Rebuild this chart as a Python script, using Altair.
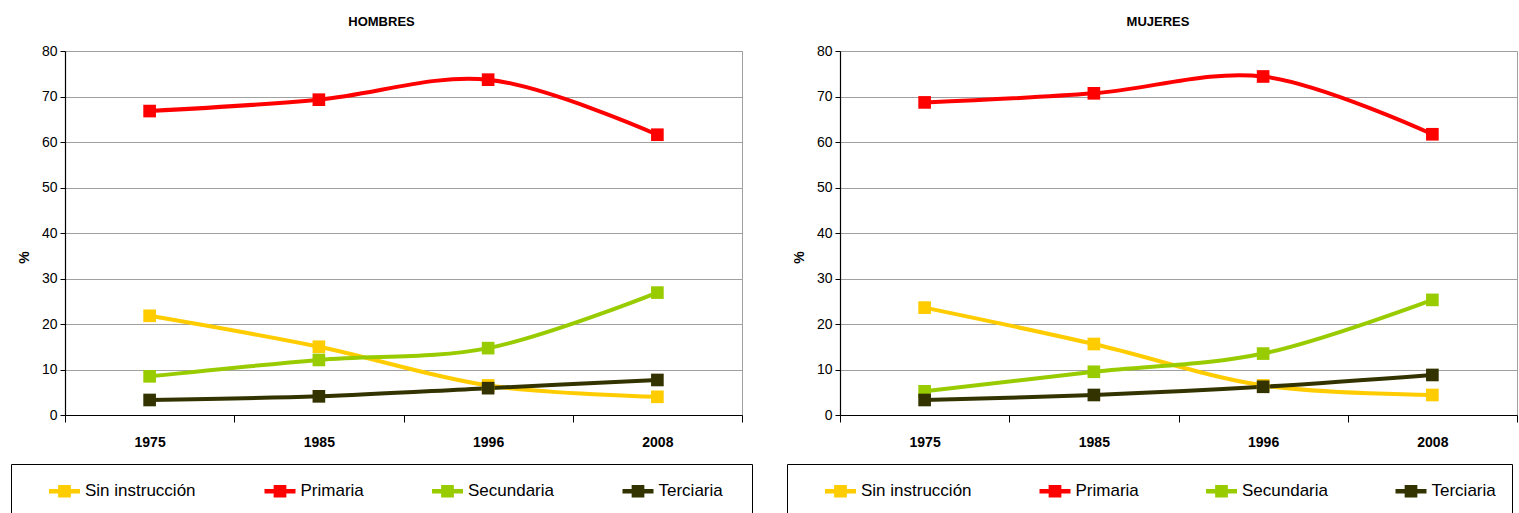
import json
import altair as alt
import pandas as pd

years = ["1975", "1985", "1996", "2008"]
series = ["Sin instrucción", "Primaria", "Secundaria", "Terciaria"]
colors = ["#FFCC00", "#FF0000", "#99CC00", "#333300"]

hombres_sin = [21.8, 15.0, 6.5, 4.0]
hombres_pri = [66.8, 69.3, 73.7, 61.6]
hombres_sec = [8.5, 12.1, 14.7, 26.9]
hombres_ter = [3.3, 4.1, 5.9, 7.7]

mujeres_sin = [23.6, 15.6, 6.5, 4.4]
mujeres_pri = [68.7, 70.7, 74.4, 61.7]
mujeres_sec = [5.2, 9.5, 13.5, 25.3]
mujeres_ter = [3.3, 4.4, 6.2, 8.8]

FONT = "Liberation Sans, Arial"


def build_df(vals):
    rows = []
    for s, arr in zip(series, vals):
        for y, v in zip(years, arr):
            rows.append({"year": y, "serie": s, "value": v})
    return pd.DataFrame(rows)


years_js = json.dumps(years)
LEG_PATH = "M-1,-0.15H1V0.15H-1Z M-0.41,-0.41H0.41V0.41H-0.41Z"


def panel(df, title, legx, title_pad, col_pad, dx):
    base = alt.Chart(df).transform_calculate(
        pos=f"indexof({years_js}, datum.year) + 0.5"
    )
    xaxis = alt.Axis(
        title=None,
        values=[0, 0.5, 1, 1.5, 2, 2.5, 3, 3.5, 4],
        labelExpr=f"(datum.value % 1) == 0.5 ? {years_js}[floor(datum.value)] : ''",
        labelOverlap=False,
        labelFlush=False,
        labelFont=FONT,
        labelFontSize=14,
        labelFontWeight="bold",
        labelColor="black",
        labelPadding=13,
        tickSize=7,
        tickColor="black",
        tickOpacity={"condition": {"test": "(datum.value % 1) == 0", "value": 1}, "value": 0},
        domainColor="black",
        domainWidth=1.2,
        grid=False,
    )
    yaxis = alt.Axis(
        title="%",
        values=[0, 10, 20, 30, 40, 50, 60, 70, 80],
        labelFont=FONT,
        labelFontSize=14,
        labelColor="black",
        labelPadding=3,
        tickSize=5,
        tickColor="black",
        domainColor="black",
        domainWidth=1.2,
        gridColor="#a0a0a0",
        gridWidth=1,
        titleFont=FONT,
        titleFontSize=14,
        titleFontWeight="bold",
        titleColor="black",
        titleX=-41,
        titleY=206,
        titleAlign="center",
        titleBaseline="middle",
        titleAngle=270,
    )
    x = alt.X("pos:Q", scale=alt.Scale(domain=[0, 4], nice=False, zero=False), axis=xaxis)
    y = alt.Y("value:Q", scale=alt.Scale(domain=[0, 80], nice=False), axis=yaxis)
    cscale = alt.Scale(domain=series, range=colors)
    legend = alt.Legend(
        title=" ",
        titleFontSize=27,
        titlePadding=title_pad,
        titleColor="white",
        titleOrient="right",
        titleAnchor="start",
        titleBaseline="top",
        orient="none",
        legendX=legx,
        legendY=413,
        direction="horizontal",
        columns=4,
        symbolType=LEG_PATH,
        symbolSize=961,
        symbolStrokeWidth=0,
        symbolOffset=26.5,
        labelOffset=5,
        labelFont=FONT,
        labelFontSize=17,
        labelColor="black",
        labelLimit=400,
        columnPadding=col_pad,
        padding=11.5,
        strokeColor="black",
        fillColor="white",
    )
    color = alt.Color("serie:N", scale=cscale, legend=legend)
    line = base.mark_line(strokeWidth=4, interpolate="catmull-rom").encode(
        x=x, y=y, color=color
    )
    pts = base.mark_square(size=160, opacity=1, filled=True).encode(
        x=x, y=y, color=color
    )
    return alt.layer(line, pts).properties(
        width=677,
        height=364,
        title=alt.TitleParams(
            title, font=FONT, fontSize=13, fontWeight="bold", color="black",
            anchor="middle", frame="bounds", offset=15, dx=dx,
        ),
    )


left = panel(build_df([hombres_sin, hombres_pri, hombres_sec, hombres_ter]),
             "HOMBRES", -54, 17.5, 41.5, 0)
right = panel(build_df([mujeres_sin, mujeres_pri, mujeres_sec, mujeres_ter]),
              "MUJERES", -53, 5, 40.5, 6)

chart = (
    alt.hconcat(left, right, spacing=33)
    .resolve_scale(color="independent", x="independent", y="independent")
    .properties(padding={"left": 10, "top": 15, "right": 0, "bottom": 0}, background="white")
    .configure_view(stroke="#a0a0a0", strokeWidth=1)
)

chart.save("out.html", embed_options={"renderer": "svg", "actions": False})
